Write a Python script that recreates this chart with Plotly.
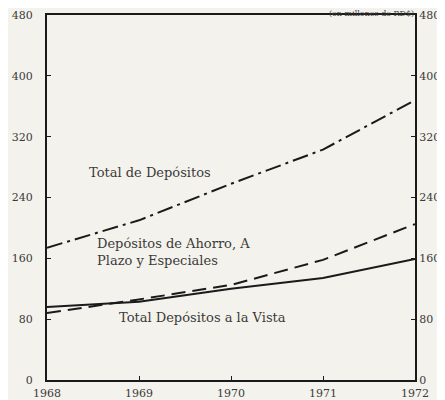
import plotly.graph_objects as go

# Datos (millones)
anios = [1968, 1969, 1970, 1971, 1972]
total_depositos = [174, 210, 258, 303, 368]
depositos_ahorro = [88, 106, 125, 158, 205]
depositos_vista = [96, 103, 120, 134, 159]
y_ticks = [0, 80, 160, 240, 320, 400, 480]

papel = "#f4f2ec"
tinta = "#1a1a1a"
serif = "DejaVu Serif, Liberation Serif, serif"
fuente = dict(family=serif, size=13, color="#3a3a3a")
fuente_ejes = dict(family=serif, size=11, color="#3a3a3a")

fig = go.Figure()

fig.add_trace(go.Scatter(x=anios, y=total_depositos, mode="lines",
                         line=dict(color=tinta, width=2, dash="16px,5px,3px,5px"),
                         showlegend=False))
fig.add_trace(go.Scatter(x=anios, y=depositos_ahorro, mode="lines",
                         line=dict(color=tinta, width=2, dash="14px,7px"),
                         showlegend=False))
fig.add_trace(go.Scatter(x=anios, y=depositos_vista, mode="lines",
                         line=dict(color=tinta, width=2),
                         showlegend=False))
# traza invisible para el eje derecho
fig.add_trace(go.Scatter(x=anios, y=depositos_vista, mode="lines", yaxis="y2",
                         line=dict(width=0), hoverinfo="skip", showlegend=False))

# Etiquetas de las series
etiquetas = [
    (1968.44, 273, "Total de Depósitos"),
    (1968.52, 168, "Depósitos de Ahorro, A<br>Plazo y Especiales"),
    (1968.76, 82, "Total Depósitos a la Vista"),
]
for x, y, txt in etiquetas:
    fig.add_annotation(x=x, y=y, text=txt, showarrow=False, xanchor="left",
                       align="left", font=fuente)

# Unidad, arriba a la derecha
fig.add_annotation(xref="paper", yref="paper", x=1.0, y=1.0, yshift=7,
                   text="(en millones de RD$)", showarrow=False,
                   xanchor="right", yanchor="top", borderpad=0,
                   font=dict(family=serif, size=8, color="#3a3a3a"))

eje_y = dict(range=[0, 480], tickvals=y_ticks, ticks="inside", ticklen=4,
             tickcolor=tinta, showgrid=False, zeroline=False,
             showline=True, linecolor=tinta, linewidth=2,
             tickfont=fuente_ejes, automargin=False)

fig.update_layout(
    width=437, height=392,
    margin=dict(l=39, r=30, t=7, b=20),
    paper_bgcolor=papel, plot_bgcolor=papel,
    xaxis=dict(range=[1968, 1972], tickvals=anios, ticks="inside", ticklen=4,
               tickcolor=tinta, showgrid=False, zeroline=False,
               showline=True, linecolor=tinta, linewidth=2, mirror=True,
               tickfont=fuente_ejes, ticklabelstandoff=2, automargin=False),
    yaxis=dict(**eje_y, side="left", ticklabelstandoff=10),
    yaxis2=dict(**eje_y, side="right", overlaying="y", ticklabelstandoff=0),
)

fig.write_html("out.html")
